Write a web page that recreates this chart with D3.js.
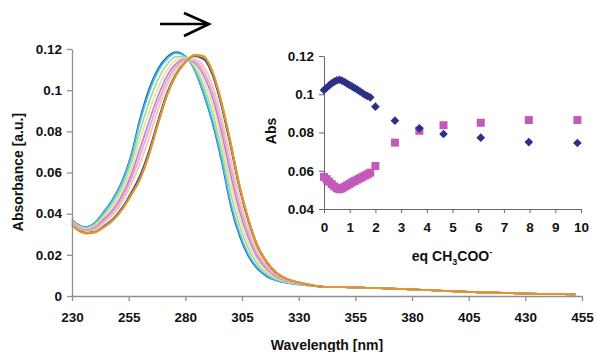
<!DOCTYPE html>
<html>
<head>
<meta charset="utf-8">
<script src="https://cdn.jsdelivr.net/npm/d3@7"></script>
<style>
  body { margin: 0; background: #fff; }
  svg { display: block; }
  text { font-family: "Liberation Sans", Arial, sans-serif; font-weight: bold; fill: #111; }
</style>
</head>
<body>
<svg id="chart" width="597" height="352"></svg>
<script>
// ---- Titration spectra (absorbance vs wavelength) ----
const wavelengths = [230,233,236,240,244,248,252,256,260,264,268,272,276,280,284,288,292,296,300,304,308,312,316,320,325,330];
const tailWavelengths = [340,350,360,370,380,390,400,410,420,430,440,452];
const tailAbs = [.0046,.0043,.0040,.0036,.0032,.0027,.0022,.0018,.0015,.0012,.0010,.0008];

const spectra = [
  [.0370,.0345,.0335,.0355,.0408,.0470,.0555,.0680,.0860,.1005,.1105,.1162,.1185,.1165,.1100,.0985,.0840,.0655,.0440,.0290,.0190,.0130,.0095,.0075,.0063,.0056],
  [.0369,.0344,.0334,.0353,.0404,.0465,.0548,.0670,.0846,.0989,.1092,.1153,.1180,.1164,.1103,.0994,.0852,.0669,.0455,.0302,.0199,.0136,.0099,.0077,.0064,.0056],
  [.0365,.0340,.0329,.0346,.0393,.0450,.0528,.0642,.0802,.0942,.1052,.1126,.1163,.1159,.1114,.1020,.0889,.0711,.0500,.0338,.0225,.0152,.0109,.0083,.0067,.0058],
  [.0361,.0336,.0325,.0339,.0382,.0434,.0508,.0614,.0759,.0895,.1012,.1098,.1147,.1155,.1124,.1046,.0926,.0753,.0545,.0374,.0251,.0169,.0120,.0089,.0070,.0060],
  [.0358,.0332,.0320,.0333,.0372,.0419,.0488,.0585,.0715,.0848,.0973,.1071,.1130,.1150,.1134,.1073,.0963,.0795,.0590,.0410,.0278,.0185,.0130,.0095,.0073,.0061],
  [.0355,.0328,.0316,.0327,.0363,.0407,.0471,.0562,.0680,.0810,.0941,.1049,.1117,.1146,.1142,.1094,.0992,.0829,.0626,.0439,.0299,.0198,.0138,.0100,.0075,.0062],
  [.0351,.0325,.0313,.0321,.0353,.0394,.0454,.0538,.0643,.0769,.0906,.1026,.1103,.1143,.1151,.1116,.1024,.0865,.0665,.0470,.0321,.0213,.0148,.0105,.0077,.0064],
  [.0346,.0319,.0307,.0312,.0339,.0373,.0427,.0500,.0585,.0706,.0853,.0989,.1081,.1137,.1165,.1151,.1073,.0921,.0725,.0518,.0356,.0235,.0162,.0113,.0081,.0066],
  [.0345,.0318,.0305,.0310,.0335,.0368,.0420,.0490,.0570,.0690,.0840,.0980,.1075,.1135,.1168,.1160,.1085,.0935,.0740,.0530,.0365,.0240,.0165,.0115,.0082,.0066],
  [.0344,.0317,.0304,.0309,.0334,.0367,.0418,.0488,.0567,.0686,.0836,.0977,.1074,.1136,.1171,.1166,.1090,.0940,.0745,.0533,.0367,.0241,.0166,.0115,.0082,.0066],
  [.0343,.0316,.0303,.0308,.0333,.0366,.0417,.0486,.0565,.0684,.0834,.0975,.1073,.1136,.1173,.1168,.1093,.0943,.0747,.0535,.0368,.0242,.0166,.0116,.0083,.0067],
  [.0344,.0317,.0304,.0309,.0334,.0367,.0419,.0489,.0568,.0688,.0838,.0978,.1074,.1135,.1170,.1163,.1088,.0938,.0743,.0532,.0366,.0241,.0165,.0115,.0082,.0066]
];
const spectrumColors = ["#2E62B0","#45BFE6","#A4DA9E","#E8E39E","#C77FC7","#DBA6E2","#F7C59F","#2B4A9E","#3A9E9E","#74C24A","#E8C42E","#F08A2E"];

const xTicks = [230,255,280,305,330,355,380,405,430,455];
const yTicks = [0,0.02,0.04,0.06,0.08,0.1,0.12];
const yTickLabels = ["0","0.02","0.04","0.06","0.08","0.1","0.12"];

// ---- Inset: absorbance vs equivalents of acetate ----
const eqAcetate = [0,0.1,0.2,0.3,0.4,0.5,0.6,0.7,0.8,0.9,1.0,1.1,1.2,1.3,1.4,1.5,1.6,1.7,1.8,2.0,2.76,3.71,4.65,6.1,7.97,9.86];
const absBand1 = [.1022,.1034,.1046,.1057,.1066,.1073,.1076,.1071,.1064,.1056,.1048,.1040,.1032,.1024,.1015,.1006,.0997,.0990,.0984,.0935,.0862,.0822,.0792,.0773,.0750,.0745];
const absBand2 = [.0568,.0556,.0543,.0530,.0518,.0508,.0503,.0508,.0516,.0524,.0532,.0540,.0547,.0554,.0561,.0568,.0575,.0582,.0590,.0625,.0747,.0809,.0838,.0851,.0865,.0865];
const insetXTicks = [0,1,2,3,4,5,6,7,8,9,10];
const insetYTicks = [0.04,0.06,0.08,0.1,0.12];
const insetYTickLabels = ["0.04","0.06","0.08","0.1","0.12"];

const svg = d3.select("#chart");

// main scales
const x = d3.scaleLinear().domain([230, 455]).range([72, 582]);
const y = d3.scaleLinear().domain([0, 0.12]).range([296, 49]);

const axisColor = "#8f8f8f";

// spectra
const line = d3.line()
  .x(d => x(d[0]))
  .y(d => y(d[1]))
  .curve(d3.curveMonotoneX);

const gSpec = svg.append("g");
spectra.forEach((vals, i) => {
  const pts = wavelengths.map((w, j) => [w, vals[j]])
    .concat(tailWavelengths.map((w, j) => [w, tailAbs[j]]));
  gSpec.append("path")
    .attr("d", line(pts))
    .attr("fill", "none")
    .attr("stroke", spectrumColors[i])
    .attr("stroke-width", 1.7)
    .attr("stroke-linejoin", "round");
});

// main axes
const xAxis = svg.append("g")
  .attr("transform", "translate(0,296)")
  .call(d3.axisBottom(x).tickValues(xTicks).tickSize(5).tickPadding(11).tickSizeOuter(0));
const yAxis = svg.append("g")
  .attr("transform", "translate(72,0)")
  .call(d3.axisLeft(y).tickValues(yTicks).tickFormat((d, i) => yTickLabels[i]).tickSize(5).tickPadding(5).tickSizeOuter(0));
[xAxis, yAxis].forEach(g => {
  g.select(".domain").attr("stroke", axisColor).attr("stroke-width", 1.3);
  g.selectAll(".tick line").attr("stroke", axisColor).attr("stroke-width", 1.3);
  g.selectAll(".tick text").attr("fill", "#111").style("font-size", "13.5px").style("font-weight", "bold")
    .style("font-family", "'Liberation Sans', Arial, sans-serif");
});

svg.append("text")
  .attr("x", 327).attr("y", 350)
  .attr("text-anchor", "middle")
  .style("font-size", "14px")
  .text("Wavelength [nm]");

svg.append("text")
  .attr("transform", "translate(23,172) rotate(-90)")
  .attr("text-anchor", "middle")
  .style("font-size", "14px")
  .text("Absorbance [a.u.]");

// shift arrow
svg.append("line")
  .attr("x1", 160).attr("y1", 24).attr("x2", 208).attr("y2", 24)
  .attr("stroke", "#000").attr("stroke-width", 2.6);
svg.append("path")
  .attr("d", "M184,13 L209,24 L184,36")
  .attr("fill", "none").attr("stroke", "#000").attr("stroke-width", 2.6)
  .attr("stroke-linejoin", "miter");

// inset
const xi = d3.scaleLinear().domain([0, 10]).range([324, 581]);
const yi = d3.scaleLinear().domain([0.04, 0.12]).range([209, 56]);
const insetColor = "#666";

const ixAxis = svg.append("g")
  .attr("transform", "translate(0,209)")
  .call(d3.axisBottom(xi).tickValues(insetXTicks).tickSize(4).tickPadding(9).tickSizeOuter(0));
const iyAxis = svg.append("g")
  .attr("transform", "translate(324,0)")
  .call(d3.axisLeft(yi).tickValues(insetYTicks).tickFormat((d, i) => insetYTickLabels[i]).tickSize(5).tickPadding(5).tickSizeOuter(0));
[ixAxis, iyAxis].forEach(g => {
  g.select(".domain").attr("stroke", insetColor).attr("stroke-width", 1);
  g.selectAll(".tick line").attr("stroke", insetColor).attr("stroke-width", 1);
  g.selectAll(".tick text").attr("fill", "#111").style("font-size", "13.5px").style("font-weight", "bold")
    .style("font-family", "'Liberation Sans', Arial, sans-serif");
});

const iPts = eqAcetate.map((e, i) => ({ e, a: absBand1[i], b: absBand2[i] }));

svg.append("g").selectAll("rect")
  .data(iPts).join("rect")
  .attr("x", d => xi(d.e) - 4).attr("y", d => yi(d.b) - 4)
  .attr("width", 8).attr("height", 8)
  .attr("fill", "#C559B9");

svg.append("g").selectAll("path")
  .data(iPts).join("path")
  .attr("d", d3.symbol().type(d3.symbolDiamond2).size(48))
  .attr("transform", d => `translate(${xi(d.e)},${yi(d.a)})`)
  .attr("fill", "#2D3185");

const eqLabel = svg.append("text")
  .attr("x", 452).attr("y", 261)
  .attr("text-anchor", "middle")
  .style("font-size", "14px");
eqLabel.append("tspan").text("eq CH");
eqLabel.append("tspan").attr("dy", 4).style("font-size", "9px").text("3");
eqLabel.append("tspan").attr("dy", -4).text("COO");
eqLabel.append("tspan").attr("dy", -6).style("font-size", "9px").text("-");

svg.append("text")
  .attr("transform", "translate(276,131) rotate(-90)")
  .attr("text-anchor", "middle")
  .style("font-size", "14px")
  .text("Abs");
</script>
</body>
</html>
